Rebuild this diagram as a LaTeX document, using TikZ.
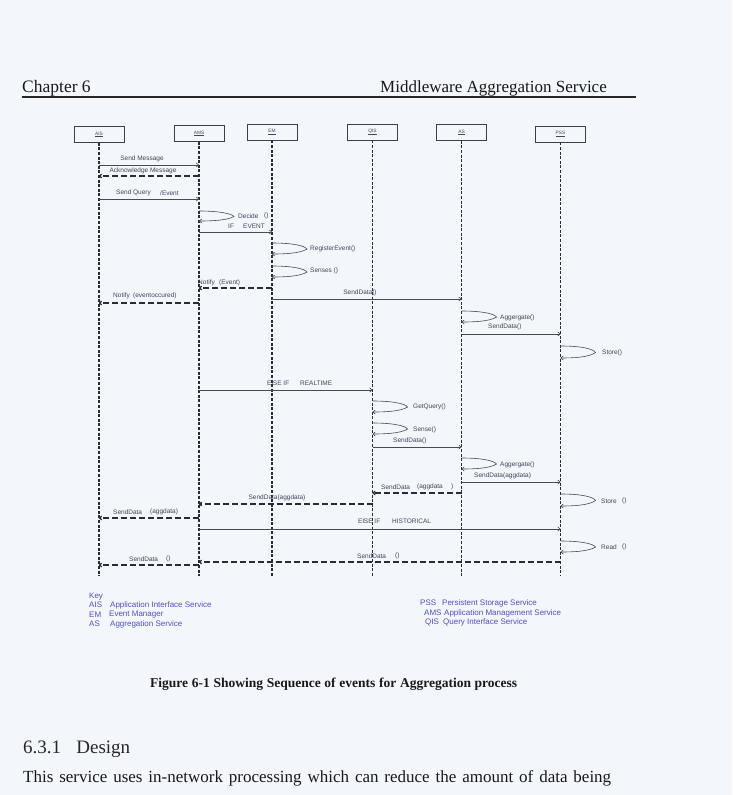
\documentclass[tikz,border=0pt]{standalone}
\usepackage{fontspec}
\setmainfont{Liberation Serif}
\newfontfamily\arialf{Liberation Sans}
\usetikzlibrary{arrows.meta,calc}
\definecolor{paper}{HTML}{F3F6FA}
\definecolor{ink}{HTML}{2A2A38}
\definecolor{lab}{HTML}{44445C}
\definecolor{keyc}{HTML}{5050C4}
\newcommand\msg[4]{\draw[#4] (#1 |- 0,#3) -- (#2 |- 0,#3);}
\newcommand\selfcall[4]{%
  \coordinate (#4a) at (#1 |- 0,#2);
  \coordinate (#4b) at (#1 |- 0,#3);
  \draw[selfc] (#4a) .. controls ($(#4a)+(22,0)$) and ($(#4a)+(33,3)$) .. ($(#4a)!0.55!(#4b)+(35,0)$) .. controls ($(#4b)+(28,-0.5)$) and ($(#4b)+(12,0)$) .. (#4b);}
\begin{document}
\begin{tikzpicture}[x=1pt,y=-1pt,
  lbl/.style={font=\arialf\fontsize{6.5}{7}\selectfont, text=lab, inner sep=0pt},
  lw/.style={lbl, anchor=west},
  obj/.style={draw=ink!90, line width=0.7pt, minimum width=50pt, minimum height=16pt, inner sep=0pt, font=\arialf\fontsize{4.8}{5}\selectfont, text=lab},
  life/.style={draw=ink, line width=1.3pt, dash pattern=on 3pt off 1.6pt},
  call/.style={draw=ink!85, line width=0.6pt, -{To[length=3pt,width=4.5pt]}},
  ret/.style={draw=ink, line width=1.3pt, dash pattern=on 6pt off 3pt, -{To[length=3pt,width=4.5pt]}},
  selfc/.style={draw=ink!85, line width=0.6pt, -{To[length=3pt,width=4.5pt]}},
  keyt/.style={font=\arialf\fontsize{8}{9}\selectfont, text=keyc, anchor=west, inner sep=0pt},
]
\fill[paper] (0,0) rectangle (732,795);
\useasboundingbox (0,0) rectangle (732,795);

% header
\node[anchor=base west, inner sep=0pt, font=\fontsize{17.5}{20}\selectfont, text=black!90] (chap) at (22,92) {Chapter 6};
\node[anchor=base east, inner sep=0pt, font=\fontsize{17}{20}\selectfont, text=black!90] (mws) at (607,92) {Middleware Aggregation Service};
\coordinate (r1) at (22,97);
\coordinate (r2) at (636,97);
\draw[line width=1.8pt, black!85] (r1) -- (r2);

% objects
\node[obj] (ais) at (99,134.5) {\underline{AIS}};
\node[obj] (ams) at (199,133.5) {\underline{AMS}};
\node[obj] (em) at (272,132) {\underline{EM}};
\node[obj] (qis) at (372.5,132) {\underline{QIS}};
\node[obj] (asv) at (461.5,132.5) {\underline{AS}};
\node[obj] (pss) at (560.5,134) {\underline{PSS}};
\foreach \n in {ais,ams,em,qis,asv,pss}{
  \coordinate (\n end) at (\n |- 0,576);
  \draw[life] (\n.south) -- (\n end);
}

% messages
\msg{ais}{ams}{165}{call}
\msg{ams}{ais}{176}{ret}
\msg{ais}{ams}{199}{call}
\selfcall{ams}{211}{221}{sa}
\msg{ams}{em}{232}{call}
\selfcall{em}{243}{254}{sb}
\selfcall{em}{266}{277}{sc}
\msg{em}{ams}{288}{ret}
\msg{em}{asv}{299}{call}
\msg{ams}{ais}{303}{ret}
\selfcall{asv}{311}{322}{sd}
\msg{asv}{pss}{334}{call}
\selfcall{pss}{346}{358}{se}
\msg{ams}{qis}{390}{call}
\selfcall{qis}{401}{412}{sf}
\selfcall{qis}{423}{434}{sg}
\msg{qis}{asv}{447}{call}
\selfcall{asv}{458}{469}{sh}
\msg{asv}{pss}{482}{call}
\msg{asv}{qis}{493}{ret}
\selfcall{pss}{494}{506}{si}
\msg{qis}{ams}{504}{ret}
\msg{ams}{ais}{518}{ret}
\msg{ams}{pss}{529}{call}
\selfcall{pss}{541}{552}{sj}
\msg{pss}{ams}{562}{ret}
\msg{ams}{ais}{565}{ret}

% labels
\node[lbl] (t1) at (142,159) {Send Message};
\node[lbl] (t2) at (143,171) {Acknowledge Message};
\node[lw] (t3) at (116,193) {Send Query};
\node[lw] (t3b) at (160,193) {/Event};
\node[lw] (t4) at (238,216) {Decide};
\node[lw] (t4b) at (264,216) {()};
\node[lw] (t5) at (228,226) {IF};
\node[lw] (t5b) at (243,226) {EVENT};
\node[lw] (t6) at (310,249) {RegisterEvent()};
\node[lw] (t7) at (310,271) {Senses ()};
\node[lw] (t8) at (198,283) {Notify};
\node[lw] (t8b) at (219,283) {(Event)};
\node[lw] (t9) at (113,296) {Notify};
\node[lw] (t9b) at (133,296) {(eventoccured)};
\node[lbl] (t10) at (360,293) {SendData()};
\node[lw] (t11) at (500,318) {Aggergate()};
\node[lw] (t12) at (488,327) {SendData()};
\node[lw] (t13) at (602,353) {Store()};
\node[lw] (t14) at (267,383) {ElSE IF};
\node[lw] (t14b) at (300,383) {REALTIME};
\node[lw] (t15) at (413,407) {GetQuery()};
\node[lw] (t16) at (413,430) {Sense()};
\node[lw] (t17) at (393,441) {SendData()};
\node[lw] (t18) at (500,465) {Aggergate()};
\node[lw] (t19) at (474,476) {SendData(aggdata)};
\node[lw] (t20) at (381,487) {SendData};
\node[lw] (t20b) at (417,487) {(aggdata};
\node[lw] (t20c) at (451,487) {)};
\node[lbl] (t21) at (277,498) {SendData(aggdata)};
\node[lw] (t22) at (113,512) {SendData};
\node[lw] (t22b) at (150,512) {(aggdata)};
\node[lw] (t23) at (601,501) {Store};
\node[lw] (t23b) at (622,501) {()};
\node[lw] (t24) at (358,521) {ElSE IF};
\node[lw] (t24b) at (392,521) {HISTORICAL};
\node[lw] (t25) at (601,547) {Read};
\node[lw] (t25b) at (622,547) {()};
\node[lw] (t26) at (357,556) {SendData};
\node[lw] (t26b) at (395,556) {()};
\node[lw] (t27) at (129,559) {SendData};
\node[lw] (t27b) at (166,559) {()};

% key
\node[keyt] (k0) at (89,597) {Key};
\node[keyt] (k1) at (89,605) {AIS};
\node[keyt] (k1b) at (110,605) {Application Interface Service};
\node[keyt] (k2) at (89,615) {EM};
\node[keyt] (k2b) at (109,615) {Event Manager};
\node[keyt] (k3) at (89,624) {AS};
\node[keyt] (k3b) at (110,624) {Aggregation Service};
\node[keyt] (k4) at (420,603) {PSS};
\node[keyt] (k4b) at (442,603) {Persistent Storage Service};
\node[keyt] (k5) at (424,613) {AMS};
\node[keyt] (k5b) at (444,613) {Application Management Service};
\node[keyt] (k6) at (425,622) {QIS};
\node[keyt] (k6b) at (443,622) {Query Interface Service};

% caption and text
\node[anchor=base west, inner sep=0pt, font=\bfseries\fontsize{13.5}{16}\selectfont, text=black!90] (cap) at (150,687)
  {\makebox[367pt][s]{Figure 6-1 Showing Sequence of events for Aggregation process}};
\node[anchor=base west, inner sep=0pt, font=\fontsize{19}{22}\selectfont, text=black!85] (sec) at (23,753)
  {\makebox[107pt][s]{6.3.1\hfill Design}};
\node[anchor=base west, inner sep=0pt, font=\fontsize{17}{20}\selectfont, text=black!90] (body) at (23,782)
  {\makebox[588pt][s]{This service uses in-network processing which can reduce the amount of data being}};
\end{tikzpicture}
\end{document}
